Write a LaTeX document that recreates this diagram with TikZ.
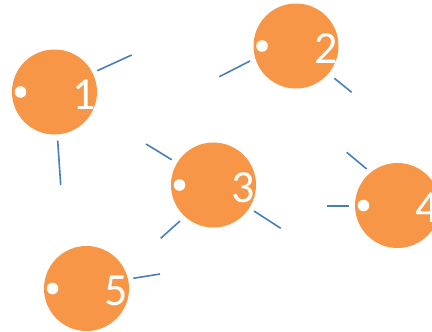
\documentclass[tikz,border=0pt]{standalone}
\usepackage{fontspec}
\setmainfont{Carlito}
\definecolor{ballorange}{HTML}{F79646}
\definecolor{linkblue}{HTML}{4A7EBB}
\begin{document}
\begin{tikzpicture}[x=1pt,y=-1pt,
  ball/.style={circle,fill=ballorange,draw=none,minimum size=85pt,inner sep=0pt},
  pin/.style={circle,fill=white,draw=none,minimum size=11.6pt,inner sep=0pt},
  num/.style={text=white,font=\fontsize{46}{46}\selectfont,inner sep=0pt,anchor=center},
  link/.style={draw=linkblue,line width=1.6pt}]
\useasboundingbox (0,0) rectangle (432,332);

% balls with their pins and numbers
\foreach \n/\x/\y in {1/54.5/92, 2/296/46, 3/213.5/185, 4/397.5/205.5, 5/86.5/288.5}{
  \node[ball] (c\n) at (\x,\y) {};
  \node[pin] (p\n) at ([xshift=-34pt]c\n.center) {};
  \node[num] (t\n) at ([xshift=30pt,yshift=-2.5pt]c\n.center) {\n};
}

% short link segments
\coordinate (a1) at (97.3,70.7);  \coordinate (b1) at (131.7,55);
\coordinate (a2) at (57.7,140.7); \coordinate (b2) at (60.7,185);
\coordinate (a3) at (219.3,76.7); \coordinate (b3) at (250,61);
\coordinate (a4) at (334.3,78.3); \coordinate (b4) at (351.7,92.3);
\coordinate (a5) at (146,144);    \coordinate (b5) at (171.7,159.7);
\coordinate (a6) at (160.7,238.3);\coordinate (b6) at (180,221);
\coordinate (a7) at (254,211);    \coordinate (b7) at (280.7,228.3);
\coordinate (a8) at (346.7,152.3);\coordinate (b8) at (366.7,169);
\coordinate (a9) at (326.7,206);  \coordinate (b9) at (349.3,206);
\coordinate (a10) at (133.3,278.3);\coordinate (b10) at (160,274);
\foreach \k in {1,...,10}{\draw[link] (a\k) -- (b\k);}
\end{tikzpicture}
\end{document}
